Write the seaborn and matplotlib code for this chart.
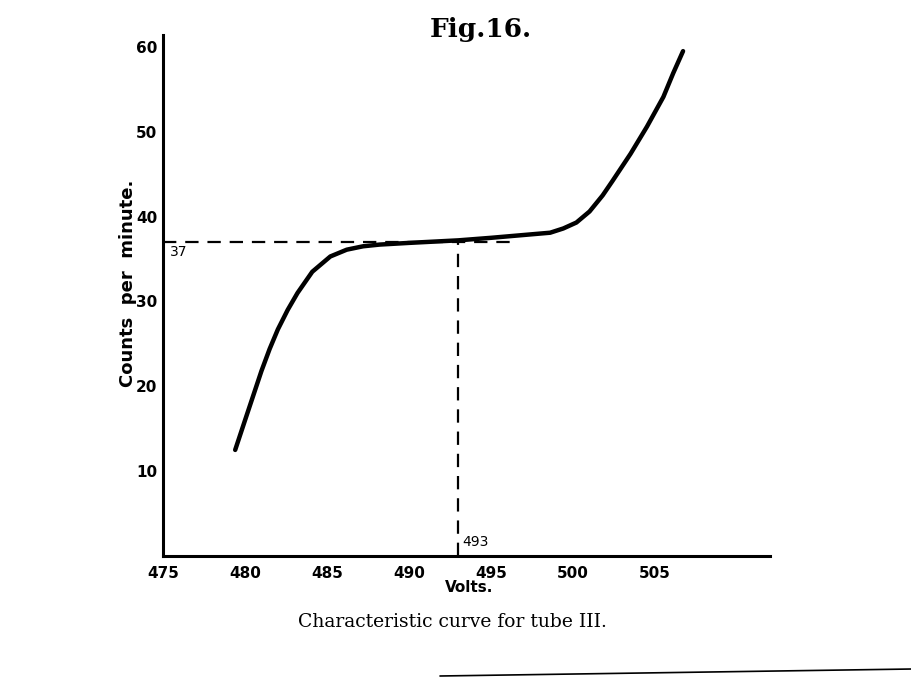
import matplotlib
matplotlib.use("Agg")
import matplotlib.pyplot as plt
import seaborn as sns
import pandas as pd
from matplotlib.lines import Line2D

# Data
volts = [479.4, 480.0, 480.5, 481.0, 481.5, 482.0, 482.6, 483.2, 484.1, 485.2,
         486.2, 487.2, 488.2, 490.0, 493.0, 495.0, 497.4, 498.6, 499.4, 500.2,
         501.0, 501.8, 502.4, 503.5, 504.5, 505.5, 506.1, 506.7]
counts = [12.5, 16.0, 18.9, 21.8, 24.4, 26.7, 29.0, 31.0, 33.5, 35.3,
          36.1, 36.5, 36.7, 36.9, 37.2, 37.5, 37.9, 38.1, 38.6, 39.3,
          40.6, 42.5, 44.2, 47.4, 50.6, 54.1, 56.9, 59.5]
x_ticks = [475, 480, 485, 490, 495, 500, 505]
y_ticks = [10, 20, 30, 40, 50, 60]
plateau_volts = 493
plateau_counts = 37

df = pd.DataFrame({"Volts": volts, "Counts": counts})

sns.set_style("white")
plt.rcParams['font.family'] = ['DejaVu Sans']

fig = plt.figure(figsize=(9.12, 6.78), dpi=100)
ax = fig.add_axes([163/912, 1 - 556/678, (770 - 163)/912, (556 - 35)/678])

sns.lineplot(data=df, x="Volts", y="Counts", ax=ax, color="black", lw=3.2,
             solid_capstyle="round", solid_joinstyle="round")

ax.set_xlim(475, 512)
ax.set_ylim(0, 61.4)

# dashed guide lines
ax.plot([475, 496.5], [plateau_counts, plateau_counts], color="black", lw=1.6,
        dashes=(6, 4))
ax.plot([plateau_volts, plateau_volts], [0, plateau_counts], color="black", lw=1.6,
        dashes=(6, 4))
ax.text(475.4, plateau_counts - 0.4, "37", fontsize=10, va="top", ha="left",
        color="black")
ax.text(plateau_volts + 0.25, 0.8, "493", fontsize=10, va="bottom", ha="left",
        color="black")

sns.despine(ax=ax)
for s in ["left", "bottom"]:
    ax.spines[s].set_linewidth(2.2)
    ax.spines[s].set_color("black")

ax.set_xticks(x_ticks)
ax.set_yticks(y_ticks)
ax.set_xticklabels([str(v) for v in x_ticks], fontsize=11, fontweight="bold")
ax.set_yticklabels([str(v) for v in y_ticks], fontsize=11, fontweight="bold")
ax.tick_params(axis="both", length=0, labelcolor="black")
ax.tick_params(axis="x", pad=7)
ax.tick_params(axis="y", pad=4)

ax.set_xlabel("")
ax.set_ylabel("")
fig.text(469/912, 1 - 588/678, "Volts.", fontsize=11, fontweight="bold",
         ha="center", va="center", color="black")
fig.text(128/912, 1 - 283/678, "Counts  per  minute.", fontsize=13,
         fontweight="bold", rotation=90, ha="center", va="center", color="black")

fig.text(481/912, 1 - 29/678, "Fig.16.", fontsize=19, family="DejaVu Serif",
         fontweight="bold", ha="center", va="center", color="black")
fig.text(452/912, 1 - 622/678, "Characteristic curve for tube III.", fontsize=13.5,
         family="DejaVu Serif", ha="center", va="center", color="black")

# page edge line from the scan
fig.add_artist(Line2D([440/912, 1.0], [1 - 676/678, 1 - 669/678],
                      transform=fig.transFigure, color="black", lw=1.2))

fig.savefig("out.png", dpi=100, facecolor="white")
